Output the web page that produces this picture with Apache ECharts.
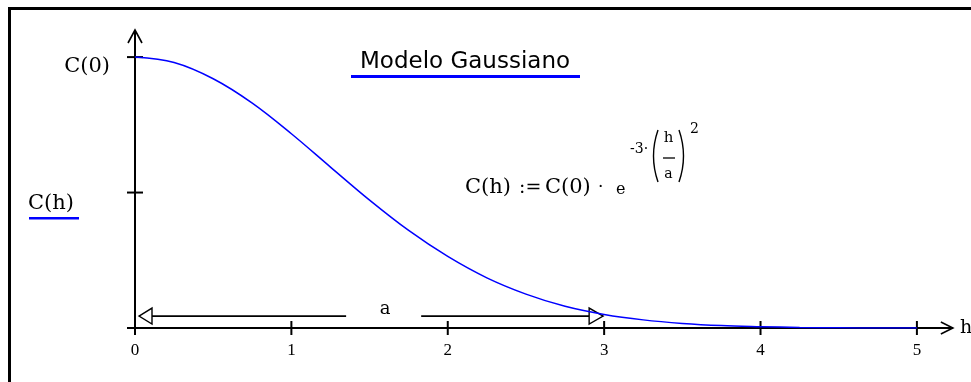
<!DOCTYPE html>
<html>
<head>
<meta charset="utf-8">
<script src="https://cdn.jsdelivr.net/npm/echarts@6/dist/echarts.min.js"></script>
<style>
  html, body { margin: 0; padding: 0; background: #ffffff; }
  #chart { width: 971px; height: 382px; }
</style>
</head>
<body>
<div id="chart"></div>
<script>
// Lag distance h and covariance C(h) (as a fraction of C(0)) for the Gaussian model
const lagH = [0, 0.25, 0.5, 0.75, 1, 1.25, 1.5, 1.75, 2, 2.25, 2.5, 2.75, 3,
              3.25, 3.5, 3.75, 4, 4.25, 4.5, 4.75, 5];
const covC = [1.00, 0.98, 0.92, 0.83, 0.717, 0.594, 0.472, 0.36, 0.264, 0.185, 0.125, 0.08, 0.05,
              0.03, 0.017, 0.009, 0.005, 0.002, 0.001, 0, 0];

// Axis ticks
const xTickValues = [0, 1, 2, 3, 4, 5];
const xTickLabels = ['0', '1', '2', '3', '4', '5'];
const yTickValues = [0.5, 1];
const yLabelValue = 1;
const yLabelText = 'C(0)';

// Range parameter a, shown as a dimension line above the h axis
const rangeA = 3;
const dimLevel = 0.044;
const dimGap = [1.35, 1.83];
const dimLabel = 'a';
const dimLabelAt = 1.6;

// Extent of the arrowed axes
const xArrowEnd = 5.23;
const yArrowEnd = 1.1;

const BLUE = '#0000ff';
const SERIF_FAMILY = '"DejaVu Serif", "Liberation Serif", serif';
const SERIF = SERIF_FAMILY;

const chart = echarts.init(document.getElementById('chart'), null, { renderer: 'canvas' });

function drawAxesAndDimension(params, api) {
  const children = [];
  const stroke = { stroke: '#000', lineWidth: 2, fill: null };
  const o = api.coord([0, 0]);
  const xe = api.coord([xArrowEnd, 0]);
  const ye = api.coord([0, yArrowEnd]);

  // axis lines
  children.push({ type: 'line', shape: { x1: o[0] - 8, y1: o[1], x2: xe[0], y2: o[1] }, style: stroke });
  children.push({ type: 'line', shape: { x1: o[0], y1: o[1] + 6, x2: o[0], y2: ye[1] }, style: stroke });

  // open arrowheads
  children.push({ type: 'polyline', shape: { points: [[xe[0] - 12, o[1] - 6], [xe[0], o[1]], [xe[0] - 12, o[1] + 6]] },
                  style: { stroke: '#000', lineWidth: 1.6, fill: null } });
  children.push({ type: 'polyline', shape: { points: [[o[0] - 7, ye[1] + 13], [o[0], ye[1]], [o[0] + 7, ye[1] + 13]] },
                  style: { stroke: '#000', lineWidth: 1.6, fill: null } });

  // crossing ticks
  xTickValues.forEach(function (v) {
    const p = api.coord([v, 0]);
    children.push({ type: 'line', shape: { x1: p[0], y1: p[1] - 7, x2: p[0], y2: p[1] + 7 }, style: stroke });
  });
  yTickValues.forEach(function (v) {
    const p = api.coord([0, v]);
    children.push({ type: 'line', shape: { x1: p[0] - 8, y1: p[1], x2: p[0] + 8, y2: p[1] }, style: stroke });
  });

  // dimension line for the range a
  const a0 = api.coord([0, dimLevel]);
  const a1 = api.coord([rangeA, dimLevel]);
  const g0 = api.coord([dimGap[0], dimLevel]);
  const g1 = api.coord([dimGap[1], dimLevel]);
  const lt = a0[0] + 4, rt = a1[0] - 1, y = a0[1];
  const dim = { stroke: '#000', lineWidth: 1.6, fill: null };
  children.push({ type: 'line', shape: { x1: lt, y1: y, x2: g0[0], y2: y }, style: dim });
  children.push({ type: 'line', shape: { x1: g1[0], y1: y, x2: rt, y2: y }, style: dim });
  children.push({ type: 'polygon', shape: { points: [[lt, y], [lt + 13, y - 8], [lt + 13, y + 8]] },
                  style: { stroke: '#000', lineWidth: 1.4, fill: '#fff' } });
  children.push({ type: 'polygon', shape: { points: [[rt, y], [rt - 14, y - 8], [rt - 14, y + 8]] },
                  style: { stroke: '#000', lineWidth: 1.4, fill: '#fff' } });
  const lp = api.coord([dimLabelAt, dimLevel]);
  children.push({ type: 'text', x: lp[0], y: lp[1] - 7,
                  style: { text: dimLabel, font: '18px ' + SERIF, fill: '#000', align: 'center', verticalAlign: 'middle' } });

  return { type: 'group', children: children };
}

function label(x, y, text, size, extra) {
  const style = Object.assign({ text: text, font: size + 'px ' + SERIF, fill: '#000', verticalAlign: 'middle' }, extra || {});
  return { type: 'text', x: x, y: y, style: style };
}

const option = {
  animation: false,
  backgroundColor: '#ffffff',
  grid: { left: 135, right: 15, top: 30, bottom: 54, containLabel: false, outerBoundsMode: 'none' },
  xAxis: {
    type: 'value',
    min: 0,
    max: 5.25,
    name: 'h',
    nameLocation: 'end',
    nameGap: 4,
    nameTextStyle: { fontSize: 19, fontFamily: SERIF_FAMILY, color: '#000', verticalAlign: 'middle', align: 'left' },
    axisLine: { show: false },
    axisTick: { show: false },
    splitLine: { show: false },
    axisLabel: {
      customValues: xTickValues,
      formatter: function (v) { return xTickLabels[xTickValues.indexOf(v)]; },
      margin: 14,
      fontSize: 17,
      fontFamily: '"Liberation Serif", serif',
      color: '#000'
    }
  },
  yAxis: {
    type: 'value',
    min: 0,
    max: yArrowEnd,
    axisLine: { show: false },
    axisTick: { show: false },
    splitLine: { show: false },
    axisLabel: {
      customValues: [yLabelValue],
      formatter: function () { return yLabelText; },
      margin: 25,
      verticalAlign: 'top',
      lineHeight: 18,
      fontSize: 21,
      fontFamily: SERIF_FAMILY,
      color: '#000'
    }
  },
  graphic: [
    // frame edges
    { type: 'line', shape: { x1: 9.5, y1: 7, x2: 9.5, y2: 382 }, style: { stroke: '#000', lineWidth: 3 } },
    { type: 'line', shape: { x1: 8, y1: 8.5, x2: 971, y2: 8.5 }, style: { stroke: '#000', lineWidth: 3 } },
    // title
    { type: 'text', x: 360, y: 62, style: { text: 'Modelo Gaussiano', font: '23px "DejaVu Sans", sans-serif', fill: '#000', verticalAlign: 'middle' } },
    { type: 'rect', shape: { x: 351, y: 75, width: 229, height: 3 }, style: { fill: BLUE } },
    // legend entry
    label(28, 204, 'C(h)', 21),
    { type: 'rect', shape: { x: 29, y: 217, width: 50, height: 2.5 }, style: { fill: BLUE } },
    // formula C(h) := C(0) · e^(-3·(h/a)^2)
    label(465, 188, 'C(h)', 21),
    label(519, 188, ':=', 19),
    label(545, 188, 'C(0)', 21),
    label(598, 188, '·', 17),
    label(616, 190, 'e', 16),
    label(630, 149, '-3·', 14),
    { type: 'bezierCurve', shape: { x1: 658, y1: 130, x2: 658, y2: 182, cpx1: 649, cpy1: 156 }, style: { stroke: '#000', lineWidth: 1.4, fill: null } },
    { type: 'bezierCurve', shape: { x1: 679, y1: 130, x2: 679, y2: 182, cpx1: 688, cpy1: 156 }, style: { stroke: '#000', lineWidth: 1.4, fill: null } },
    label(668.5, 146, 'h', 15, { align: 'center', verticalAlign: 'bottom' }),
    { type: 'line', shape: { x1: 663, y1: 158, x2: 675, y2: 158 }, style: { stroke: '#000', lineWidth: 1.3 } },
    label(668.5, 174, 'a', 14, { align: 'center' }),
    label(690, 129, '2', 14)
  ],
  series: [
    {
      type: 'custom',
      z: 1,
      silent: true,
      data: [[0, 0]],
      renderItem: drawAxesAndDimension
    },
    {
      type: 'line',
      z: 3,
      silent: true,
      data: lagH.map(function (h, i) { return [h, covC[i]]; }),
      smooth: 0.35,
      showSymbol: false,
      lineStyle: { color: BLUE, width: 1.5 }
    }
  ]
};

chart.setOption(option);
</script>
</body>
</html>
